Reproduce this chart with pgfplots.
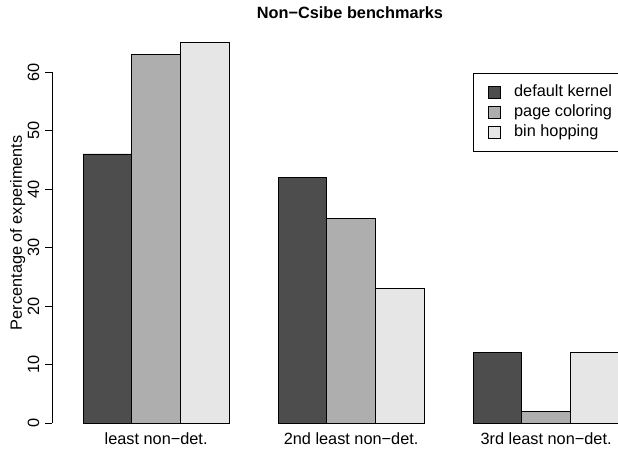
\documentclass[border=0pt]{standalone}
\usepackage{pgfplots}
\pgfplotsset{compat=1.18}
\usepackage{fontspec}
\setmainfont{Liberation Sans}
\definecolor{c1}{HTML}{4D4D4D}
\definecolor{c2}{HTML}{AEAEAE}
\definecolor{c3}{HTML}{E6E6E6}
\pgfplotsset{
  mybar/.style={ybar, bar width=1, bar shift=0pt, draw=black, line width=0.75bp,
    legend image code/.code={\draw[##1,draw=black,line width=0.75bp] (0bp,-6bp) rectangle (12bp,6bp);}},
}
\begin{document}
\fontsize{16.3bp}{19.6bp}\selectfont
\begin{tikzpicture}
\path[use as bounding box] (0,0) rectangle (618bp,451bp);
\begin{axis}[
  at={(52bp,28bp)}, anchor=south west,
  scale only axis, width=567.25bp, height=351bp,
  xmin=0.3641, xmax=12, ymin=0, ymax=60, clip=false,
  axis lines=left, axis line style={-, line width=0.75bp, black},
  x axis line style={draw=none},
  xtick={2.5,6.5,10.5},
  xticklabels={least non−det., 2nd least non−det., 3rd least non−det.},
  xtick style={draw=none},
  xticklabel style={anchor=base, yshift=-14bp},
  ytick={0,10,20,30,40,50,60},
  tick align=outside, major tick length=7bp,
  ytick style={line width=0.75bp, black},
  yticklabel style={xshift=-6bp, rotate=90, anchor=base},
  /pgf/number format/assume math mode=true,
  title={Non−Csibe benchmarks},
  title style={at={(axis description cs:0.5253,1.1368)}, anchor=base, font=\bfseries},
  ylabel={Percentage of experiments},
  every axis y label/.style={at={(axis description cs:-0.0529,0.542)}, rotate=90, anchor=base},
  legend cell align=left,
  legend style={at={(axis description cs:0.7422,0.9972)}, anchor=north west,
    draw=black, line width=0.75bp, fill=white,
    inner xsep=15bp, inner ysep=12bp, row sep=6bp, column sep=13bp,
    nodes={inner sep=0pt, text height=11bp, text depth=3bp}},
]
\addplot[mybar, fill=c1] coordinates {(1.5,46) (5.5,42) (9.5,12)};
\addplot[mybar, fill=c2] coordinates {(2.5,63) (6.5,35) (10.5,2)};
\addplot[mybar, fill=c3] coordinates {(3.5,65) (7.5,23) (11.5,12)};
\legend{default kernel, page coloring, bin hopping}
\end{axis}
\end{tikzpicture}
\end{document}
